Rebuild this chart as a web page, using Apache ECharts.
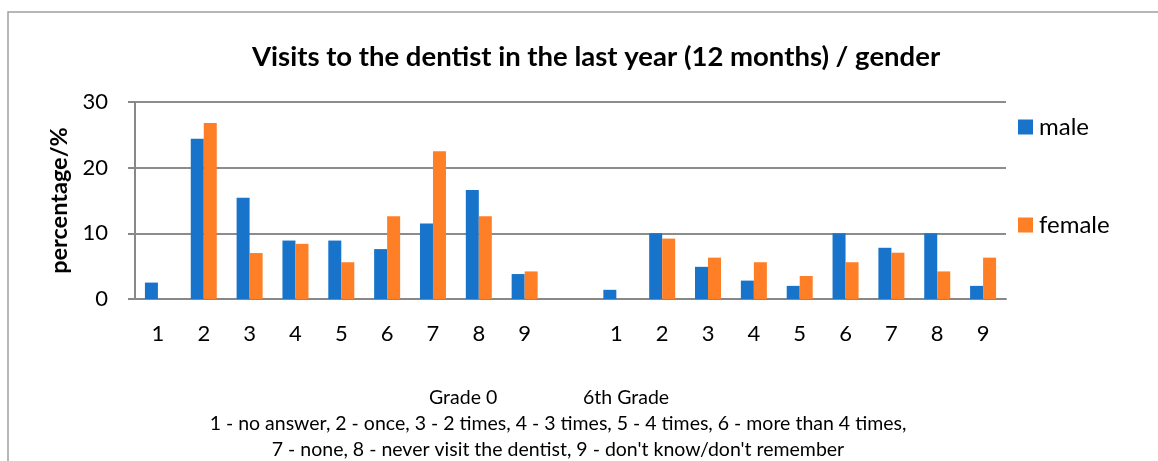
<!DOCTYPE html>
<html>
<head>
<meta charset="utf-8">
<script src="https://cdn.jsdelivr.net/npm/echarts@6/dist/echarts.min.js"></script>
<style>
html, body { margin: 0; padding: 0; background: #fff; }
#chart { width: 1158px; height: 461px; }
</style>
</head>
<body>
<div id="chart"></div>
<script>
// categories: grade 0 (1-9), a gap, 6th grade (1-9)
var categories = ['1','2','3','4','5','6','7','8','9','','1','2','3','4','5','6','7','8','9'];
var male   = [2.5, 24.4, 15.4, 8.9, 8.9, 7.6, 11.5, 16.6, 3.8, null, 1.4, 10.0, 4.9, 2.8, 2.0, 10.0, 7.8, 10.0, 2.0];
var female = [null, 26.8, 7.0, 8.4, 5.6, 12.6, 22.5, 12.6, 4.2, null, null, 9.2, 6.3, 5.6, 3.5, 5.6, 7.05, 4.2, 6.3];
var yTicks = [0, 10, 20, 30];

var font = 'Lato, "Open Sans", sans-serif';
var myChart = echarts.init(document.getElementById('chart'));

var option = {
    animation: false,
    backgroundColor: '#fff',
    title: {
        text: 'Visits to the dentist in the last year (12 months) / gender',
        left: 247,
        top: 38,
        textStyle: { fontFamily: font, fontSize: 27.5, fontWeight: 'bold', color: '#000' }
    },
    legend: {
        orient: 'vertical',
        left: 1013,
        top: 110,
        itemWidth: 15,
        itemHeight: 15,
        itemGap: 74,
        icon: 'rect',
        textStyle: { fontFamily: font, fontSize: 24, color: '#000', padding: [0, 0, 0, 1] },
        data: ['male', 'female']
    },
    grid: { left: 135, right: 152, top: 102, bottom: 162 },
    xAxis: {
        type: 'category',
        data: categories,
        axisLine: { lineStyle: { color: '#888', width: 2 } },
        axisTick: { show: false },
        axisLabel: { fontFamily: font, fontSize: 22, color: '#000', margin: 24, interval: 0 }
    },
    yAxis: {
        type: 'value',
        min: yTicks[0],
        max: yTicks[yTicks.length - 1],
        interval: 10,
        name: 'percentage/%',
        nameLocation: 'middle',
        nameGap: 63,
        nameTextStyle: { fontFamily: font, fontSize: 23.5, fontWeight: 'bold', color: '#000' },
        axisLine: { show: true, lineStyle: { color: '#888', width: 2 } },
        axisTick: { show: true, inside: false, length: 7, lineStyle: { color: '#888', width: 2 } },
        splitLine: { lineStyle: { color: '#8c8c8c', width: 2 } },
        axisLabel: { fontFamily: font, fontSize: 22, color: '#000', margin: 27 }
    },
    series: [
        {
            name: 'male',
            type: 'bar',
            data: male,
            barWidth: 13,
            barGap: '0%',
            itemStyle: { color: '#1874cb' }
        },
        {
            name: 'female',
            type: 'bar',
            data: female,
            barWidth: 13,
            itemStyle: { color: '#ff7f27' }
        }
    ],
    graphic: [
        {
            type: 'rect',
            shape: { x: 8, y: 12, width: 1160, height: 470 },
            style: { fill: 'none', stroke: '#a0a0a0', lineWidth: 1.5 },
            silent: true
        },
        {
            type: 'text', x: 429, y: 398,
            style: { text: 'Grade 0', font: '19.5px ' + font, fill: '#000', verticalAlign: 'middle' }
        },
        {
            type: 'text', x: 583, y: 398,
            style: { text: '6th Grade', font: '19.5px ' + font, fill: '#000', verticalAlign: 'middle' }
        },
        {
            type: 'text', x: 558, y: 424,
            style: { text: '1 - no answer, 2 - once, 3 - 2 times, 4 - 3 times, 5 - 4 times, 6 - more than 4 times,', font: '19.5px ' + font, fill: '#000', align: 'center', verticalAlign: 'middle' }
        },
        {
            type: 'text', x: 558, y: 450,
            style: { text: '7 - none, 8 - never visit the dentist, 9 - don\'t know/don\'t remember', font: '19.5px ' + font, fill: '#000', align: 'center', verticalAlign: 'middle' }
        }
    ]
};
myChart.setOption(option);
window.onresize = myChart.resize;
</script>
</body>
</html>
